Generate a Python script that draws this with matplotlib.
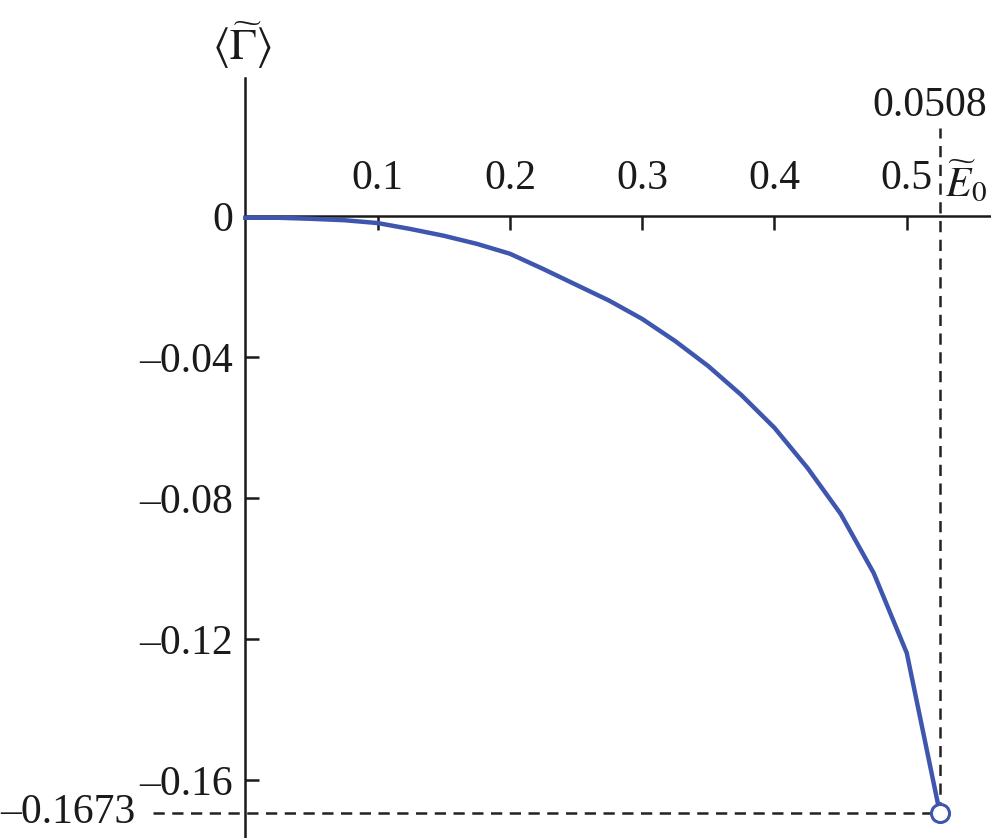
import matplotlib
matplotlib.use("Agg")
import matplotlib.pyplot as plt
from matplotlib.ticker import FixedLocator, FixedFormatter

plt.rcParams['font.family'] = ['Liberation Serif', 'DejaVu Serif']
plt.rcParams['mathtext.fontset'] = 'stix'

# Data
E0 = [0.0, 0.025, 0.05, 0.075, 0.1, 0.125, 0.15, 0.175, 0.2, 0.225, 0.25,
      0.275, 0.3, 0.325, 0.35, 0.375, 0.4, 0.425, 0.45, 0.475, 0.5, 0.525]
Gamma = [-0.0005, -0.0005, -0.0008, -0.0012, -0.002, -0.0037, -0.0056, -0.0079,
         -0.0107, -0.015, -0.0195, -0.024, -0.0292, -0.0355, -0.0426, -0.0508,
         -0.0601, -0.0715, -0.0845, -0.1013, -0.124, -0.1694]
xticks = [0.1, 0.2, 0.3, 0.4, 0.5]
xticklabels = ["0.1", "0.2", "0.3", "0.4", "0.5"]
yticks = [0.0, -0.04, -0.08, -0.12, -0.16]
yticklabels = ["0", "–0.04", "–0.08", "–0.12", "–0.16"]
end_x = 0.525
end_y = -0.1694
end_x_label = "0.0508"
end_y_label = "–0.1673"

W, H = 991, 838
fig = plt.figure(figsize=(W / 100, H / 100), dpi=100)
ax = fig.add_axes([0, 0, 1, 1])

# pixel calibration
px_per_x = 1323.0
x0_px = 245.3
px_per_y = 3525.0
y0_px = 216.0
xlim = (-x0_px / px_per_x, (W - x0_px) / px_per_x)
ylim = (-(H - y0_px) / px_per_y, y0_px / px_per_y)
ax.set_xlim(*xlim)
ax.set_ylim(*ylim)

axcol = '#1a1a1a'
for s in ['right', 'bottom']:
    ax.spines[s].set_visible(False)
ax.spines['left'].set_position(('data', 0))
ax.spines['top'].set_position(('data', 0))
ax.spines['left'].set_bounds(ylim[0], (y0_px - 78) / px_per_y)
ax.spines['top'].set_bounds(0, xlim[1])
for s in ['left', 'top']:
    ax.spines[s].set_linewidth(1.8)
    ax.spines[s].set_color(axcol)

ax.xaxis.tick_top()
ax.xaxis.set_major_locator(FixedLocator(xticks))
ax.xaxis.set_major_formatter(FixedFormatter(xticklabels))
ax.yaxis.set_major_locator(FixedLocator(yticks))
ax.yaxis.set_major_formatter(FixedFormatter(yticklabels))
ax.tick_params(axis='x', direction='in', length=10, width=1.8, color=axcol,
               labelsize=30, pad=13, labelcolor='#1a1a1a')
ax.tick_params(axis='y', direction='in', length=10, width=1.8, color=axcol,
               labelsize=30, pad=9, labelcolor='#1a1a1a')
ax.yaxis.get_major_ticks()[0].tick1line.set_visible(False)

# dashed guide lines
ax.plot([end_x, end_x], [end_y, (y0_px - 128) / px_per_y], ls=(0, (4.5, 3)),
        color='#222222', lw=1.8, zorder=2, clip_on=False)
ax.plot([-92 / px_per_x, end_x], [end_y, end_y], ls=(0, (4.5, 3)),
        color='#222222', lw=1.8, zorder=2, clip_on=False)

# curve
ax.plot(E0, Gamma, color='#3f56ae', lw=3.2, zorder=3)
ax.plot([end_x], [end_y], 'o', ms=13, mfc='white', mec='#3f56ae', mew=2.2,
        zorder=4, clip_on=False)

# labels
ax.text((930 - x0_px) / px_per_x, (y0_px - 106) / px_per_y, end_x_label,
        ha='center', va='center', fontsize=30, color='#1a1a1a')
ax.text(-(x0_px - 135) / px_per_x, end_y, end_y_label, ha='right', va='center',
        fontsize=30, color='#1a1a1a')
ax.text((966 - x0_px) / px_per_x, (y0_px - 182) / px_per_y, r'$\widetilde{E}_0$',
        ha='center', va='center', fontsize=30, color='#1a1a1a')
ax.text((242 - x0_px) / px_per_x, (y0_px - 45) / px_per_y,
        r'$\langle\widetilde{\Gamma}\rangle$', ha='center', va='center',
        fontsize=32, color='#1a1a1a')

fig.savefig('out.png', dpi=100)
